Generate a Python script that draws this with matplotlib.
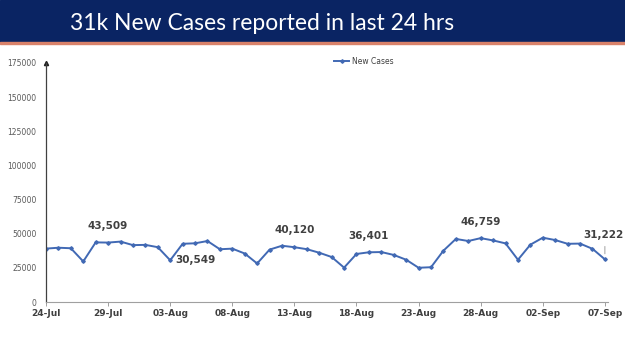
import numpy as np
import pandas as pd
import matplotlib
matplotlib.use('Agg')
import matplotlib.pyplot as plt

# daily new cases, 24-Jul to 07-Sep
dates = pd.date_range('2021-07-24', '2021-09-07', freq='D')
new_cases = [39097, 39742, 39361, 29689, 43654, 43509, 44230, 41649,
             41831, 40134, 30549, 42625, 42982, 44643, 38628, 39070,
             35499, 28204, 38353, 41195, 40120, 38667, 36083, 32937,
             25166, 35178, 36401, 36571, 34457, 30948, 25072, 25467,
             37593, 46164, 44658, 46759, 45083, 42909, 30941, 41965,
             47092, 45352, 42618, 42766, 38948, 31222]
tick_labels = [d.strftime('%d-%b') for d in dates[::5]]
yticks = [0, 25000, 50000, 75000, 100000, 125000, 150000, 175000]

# (index, label, dx px, dy px, ha)
callouts = [(5, '43,509', 0, 12, 'center'),
            (10, '30,549', 5, 0, 'left'),
            (20, '40,120', 0, 12, 'center'),
            (26, '36,401', 0, 11, 'center'),
            (35, '46,759', 0, 11, 'center'),
            (45, '31,222', -1, 19, 'center')]

line_col = '#4169b4'

fig = plt.figure(figsize=(6.25, 3.51), dpi=100)

# title banner
fig.patches.append(plt.Rectangle((0, 1 - 42/351), 1, 42/351, transform=fig.transFigure,
                                 color='#0a2463', zorder=0))
fig.patches.append(plt.Rectangle((0, 1 - 44/351), 1, 2/351, transform=fig.transFigure,
                                 color='#d9826a', zorder=0))
fig.text(262/625, 1 - 23/351, '31k New Cases reported in last 24 hrs', color='white',
         fontsize=16.5, ha='center', va='center', family='Lato')

ax = fig.add_axes([46/625, 49/351, 562/625, 239/351])
x = np.arange(len(new_cases))
ax.plot(x, new_cases, color=line_col, lw=1.4, marker='D', ms=1.8, label='New Cases')

for i, txt, dx, dy, ha in callouts:
    ax.annotate(txt, (x[i], new_cases[i]), xytext=(dx, dy), textcoords='offset pixels',
                ha=ha, va='center' if dy == 0 else 'bottom', fontsize=7.5,
                fontweight='bold', color='#404040')
# leader line for last label
ax.annotate('', (x[45], new_cases[45] + 2000), xytext=(0, 13), textcoords='offset pixels',
            arrowprops=dict(arrowstyle='-', color='#909090', lw=0.6))

ax.set_xlim(0, 45.25)
ax.set_ylim(0, 175000)
ax.set_xticks(x[::5])
ax.set_xticklabels(tick_labels, fontsize=6.5, fontweight='bold', color='#404040')
ax.set_yticks(yticks)
ax.set_yticklabels([str(v) for v in yticks], fontsize=5.5, color='#595959')
ax.tick_params(axis='y', length=0, pad=7)
ax.tick_params(axis='x', length=3, width=0.6, color='#909090', pad=2)

for s in ['top', 'right']:
    ax.spines[s].set_visible(False)
ax.spines['left'].set_color('#404040')
ax.spines['left'].set_linewidth(0.9)
ax.spines['bottom'].set_color('#a0a0a0')
ax.spines['bottom'].set_linewidth(0.8)
ax.plot(0, 1, marker='^', ms=3, color='#202020', transform=ax.transAxes, clip_on=False)

ax.legend(loc='upper center', bbox_to_anchor=(0.565, 1.055), frameon=False, fontsize=5.5,
          handlelength=2, handletextpad=0.3, labelcolor='#404040')

plt.savefig('out.png', dpi=100)
